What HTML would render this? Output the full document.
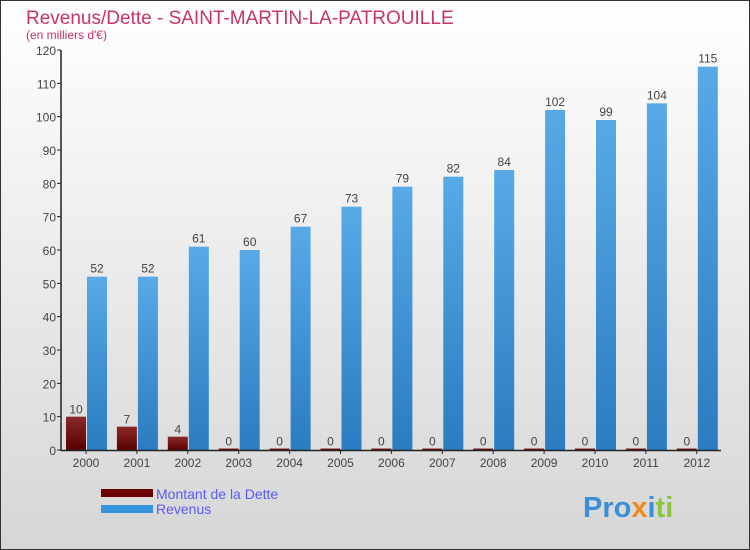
<!DOCTYPE html>
<html><head><meta charset="utf-8"><style>
body{margin:0}
#c{position:relative;width:748px;height:548px;border:1px solid #333;background:linear-gradient(#fff,#d6d6d6);font-family:"Liberation Sans",sans-serif;overflow:hidden}
</style></head><body>
<div id="c">
<svg id="s" width="748" height="548" style="position:absolute;left:0;top:0">
<defs>
<linearGradient id="gb" x1="0" y1="0" x2="0" y2="1"><stop offset="0" stop-color="#58a9e6"/><stop offset="1" stop-color="#2b7cc0"/></linearGradient>
<linearGradient id="gd" x1="0" y1="0" x2="0" y2="1"><stop offset="0" stop-color="#8a2a2a"/><stop offset="1" stop-color="#5a0000"/></linearGradient>
</defs>
<text x="25" y="23" font-size="19" fill="#c8336a">Revenus/Dette - SAINT-MARTIN-LA-PATROUILLE</text>
<text x="25" y="38" font-size="12" fill="#c8336a">(en milliers d'€)</text>
<g id="plot"></g>
<rect x="100" y="488" width="52" height="8" fill="#6a0000"/>
<rect x="100" y="504" width="52" height="8" fill="#3595dc"/>
<text x="155" y="498" font-size="14" fill="#5b5bf0">Montant de la Dette</text>
<text x="155" y="513" font-size="14" fill="#5b5bf0">Revenus</text>
<text x="582" y="516" font-size="29" font-weight="bold"><tspan fill="#3a8fd8">Pro</tspan><tspan fill="#f08a1c">x</tspan><tspan fill="#3a8fd8">i</tspan><tspan fill="#8cc43c">ti</tspan></text>
</svg>
</div>
<script>
const years=["2000","2001","2002","2003","2004","2005","2006","2007","2008","2009","2010","2011","2012"];
const debt=[10,7,4,0,0,0,0,0,0,0,0,0,0];
const revenue=[52,52,61,60,67,73,79,82,84,102,99,104,115];
const yTicks=[0,10,20,30,40,50,60,70,80,90,100,110,120];
const NS="http://www.w3.org/2000/svg";
const g=document.getElementById('plot');
const y=v=>449-v*400/120;
const xc=i=>85+i*50.9;
function mk(t,a){const e=document.createElementNS(NS,t);for(const k in a)e.setAttribute(k,a[k]);g.appendChild(e);return e;}
yTicks.forEach(v=>{
 const t=mk('text',{x:55,y:y(v)+5,'font-size':12,fill:'#444','text-anchor':'end'});t.textContent=v;
 
 
 const l=mk('line',{x1:56,x2:60,y1:y(v),y2:y(v),stroke:'#222'});
 
 
});
years.forEach((yr,i)=>{
 const c=xc(i);
 const hd=Math.max(debt[i]*400/120,1.5);
 const d=mk('rect',{x:c-20,y:y(0)-hd,width:20,height:hd,fill:'url(#gd)'});
 
 
 const r=mk('rect',{x:c+1,y:y(revenue[i]),width:20,height:revenue[i]*400/120,fill:'url(#gb)'});
 
 
 const dl=mk('text',{x:c-10,y:y(0)-hd-3,'font-size':12,fill:'#444','text-anchor':'middle'});dl.textContent=debt[i];
 
 
 const rl=mk('text',{x:c+11,y:y(revenue[i])-4,'font-size':12,fill:'#444','text-anchor':'middle'});rl.textContent=revenue[i];
 
 
 const xl=mk('text',{x:c,y:466,'font-size':12,fill:'#444','text-anchor':'middle'});xl.textContent=yr;
 
 
 const xt=mk('line',{x1:c,x2:c,y1:449,y2:453,stroke:'#222'});
 
 
});
const ya=mk('line',{x1:60,x2:60,y1:49,y2:450,stroke:'#222','stroke-width':1.5});


const xa=mk('line',{x1:60,x2:720,y1:449.5,y2:449.5,stroke:'#222','stroke-width':1.5});


</script>
</body></html>
